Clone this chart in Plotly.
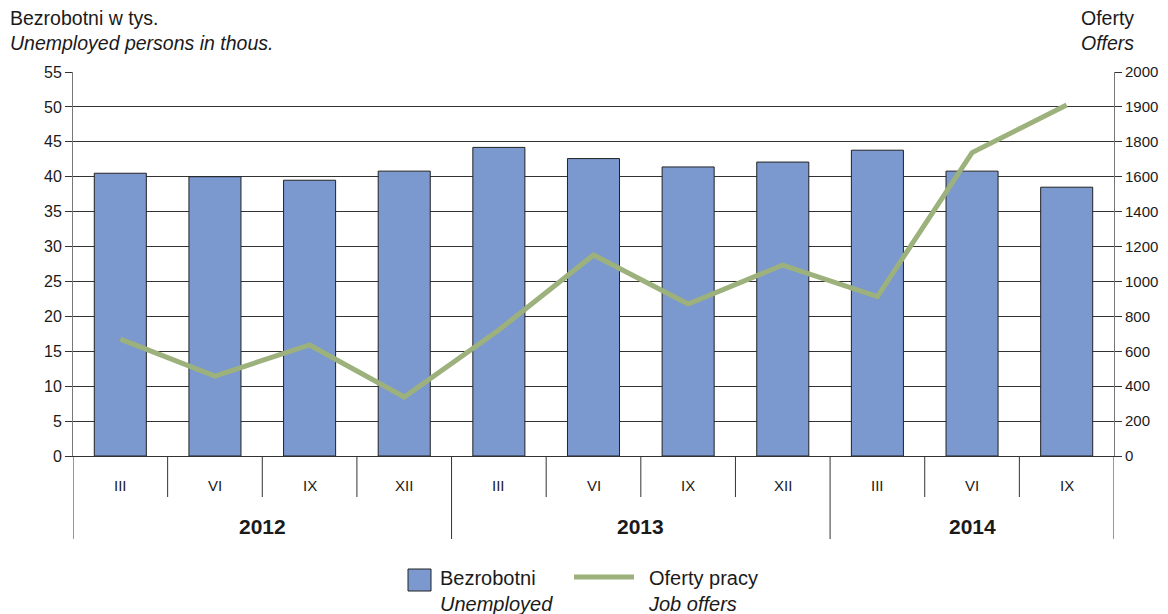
import plotly.graph_objects as go

years = ["2012", "2013", "2014"]
months_per_year = [["III", "VI", "IX", "XII"], ["III", "VI", "IX", "XII"], ["III", "VI", "IX"]]
months = [m for ms in months_per_year for m in ms]
unemployed = [40.5, 40.0, 39.5, 40.8, 44.2, 42.6, 41.4, 42.1, 43.8, 40.8, 38.5]
# job offers as positioned on the right axis grid (equal spacing per tick)
offers = [670, 458, 636, 338, 722, 1152, 871, 1094, 913, 1738, 2011]
right_tickvals = [0, 200, 400, 600, 800, 1000, 1200, 1400, 1600, 1800, 2000, 2200]
right_ticktext = ["0", "200", "400", "600", "800", "1000", "1200", "1400", "1600", "1800", "1900", "2000"]

xpos = list(range(len(months)))

BASE = "Liberation Sans, Arial, Helvetica, sans-serif"
TXT = "#1a1a1a"
LINE = "#333333"
BAR_COLOR = "#7B98CF"
OFFER_COLOR = "#9CB17B"

# page offset of the plot div (default body margin)
OFF = 8
# geometry in page pixels
PAGE_W, PAGE_H = 1168, 614
W, H = PAGE_W - OFF, PAGE_H - OFF
PL, PR, PT, PB = 73, 1114, 72, 456  # plot area edges in page pixels
L, T = PL - OFF, PT - OFF
R, B = W - (PR - OFF), H - (PB - OFF)
PW, PH = PR - PL, PB - PT


def px(xp):
    return (xp - PL) / PW


def py(yp):
    return (PB - yp) / PH


fig = go.Figure()
fig.add_trace(go.Bar(
    x=xpos, y=unemployed, name="Bezrobotni",
    marker=dict(color=BAR_COLOR, line=dict(color="#222222", width=1)),
    width=0.55, yaxis="y",
))
fig.add_trace(go.Scatter(
    x=xpos, y=offers, name="Oferty pracy", mode="lines",
    line=dict(color=OFFER_COLOR, width=5), yaxis="y2",
))

shapes = []
annotations = []

# month labels and year labels
for i, m in enumerate(months):
    annotations.append(dict(text=m, x=xpos[i], xref="x", y=py(485), yref="paper",
                            showarrow=False, xanchor="center", yanchor="middle",
                            font=dict(family=BASE, size=15, color=TXT)))
start = 0
year_bounds = [-0.5]
for y, ms in zip(years, months_per_year):
    end = start + len(ms) - 1
    annotations.append(dict(text=f"<b>{y}</b>", x=(xpos[start] + xpos[end]) / 2, xref="x",
                            y=py(526), yref="paper", showarrow=False,
                            xanchor="center", yanchor="middle",
                            font=dict(family=BASE, size=21, color=TXT)))
    year_bounds.append(end + 0.5)
    start = end + 1

# dividers
for i in range(len(months) - 1):
    b = i + 0.5
    if b in year_bounds:
        continue
    shapes.append(dict(type="line", xref="x", yref="paper", x0=b, x1=b, y0=0, y1=py(497),
                       line=dict(color=LINE, width=1)))
for b in year_bounds:
    shapes.append(dict(type="line", xref="x", yref="paper", x0=b, x1=b, y0=0, y1=py(539),
                       line=dict(color=LINE, width=1)))

# manual legend
shapes.append(dict(type="rect", xref="paper", yref="paper", x0=px(408), x1=px(431),
                   y0=py(569), y1=py(591), fillcolor=BAR_COLOR, line=dict(color="#222222", width=1)))
shapes.append(dict(type="line", xref="paper", yref="paper", x0=px(574), x1=px(634),
                   y0=py(577), y1=py(577), line=dict(color=OFFER_COLOR, width=5)))
annotations.append(dict(text="Bezrobotni<br><i>Unemployed</i>", xref="paper", yref="paper",
                        x=px(438), y=py(565), xanchor="left", yanchor="top", align="left",
                        showarrow=False, font=dict(family=BASE, size=20, color=TXT)))
annotations.append(dict(text="Oferty pracy<br><i>Job offers</i>", xref="paper", yref="paper",
                        x=px(646), y=py(565), xanchor="left", yanchor="top", align="left",
                        showarrow=False, font=dict(family=BASE, size=20, color=TXT)))

# axis titles
annotations.append(dict(text="Bezrobotni w tys.<br><i>Unemployed persons in thous.</i>",
                        xref="paper", yref="paper", x=px(8), y=py(5), xanchor="left",
                        yanchor="top", align="left", showarrow=False,
                        font=dict(family=BASE, size=19.5, color=TXT)))
annotations.append(dict(text="Oferty<br><i>Offers</i>", xref="paper", yref="paper",
                        x=px(1136), y=py(5), xanchor="right", yanchor="top", align="left",
                        showarrow=False, font=dict(family=BASE, size=19.5, color=TXT)))

fig.update_layout(
    width=W, height=H,
    margin=dict(l=L, r=R, t=T, b=B, autoexpand=False),
    paper_bgcolor="white", plot_bgcolor="white",
    font=dict(family=BASE, size=16, color=TXT),
    showlegend=False,
    xaxis=dict(range=[-0.5, len(months) - 0.5], showticklabels=False, ticks="",
               showline=True, linecolor=LINE, linewidth=1, showgrid=False, zeroline=False),
    yaxis=dict(
        range=[0, 55], dtick=5, showgrid=True, gridcolor=LINE, gridwidth=1,
        showline=True, linecolor="#777777", linewidth=1, ticks="outside", ticklen=7,
        tickcolor=LINE, tickfont=dict(family=BASE, size=16, color=TXT), zeroline=False,
    ),
    yaxis2=dict(
        range=[0, 2200], overlaying="y", side="right", tickvals=right_tickvals,
        ticktext=right_ticktext, showgrid=False, showline=True, linecolor="#777777",
        linewidth=1, ticks="outside", ticklen=7, tickcolor=LINE,
        tickfont=dict(family=BASE, size=15, color=TXT), zeroline=False,
    ),
    shapes=shapes,
    annotations=annotations,
)

fig.write_html("out.html")
